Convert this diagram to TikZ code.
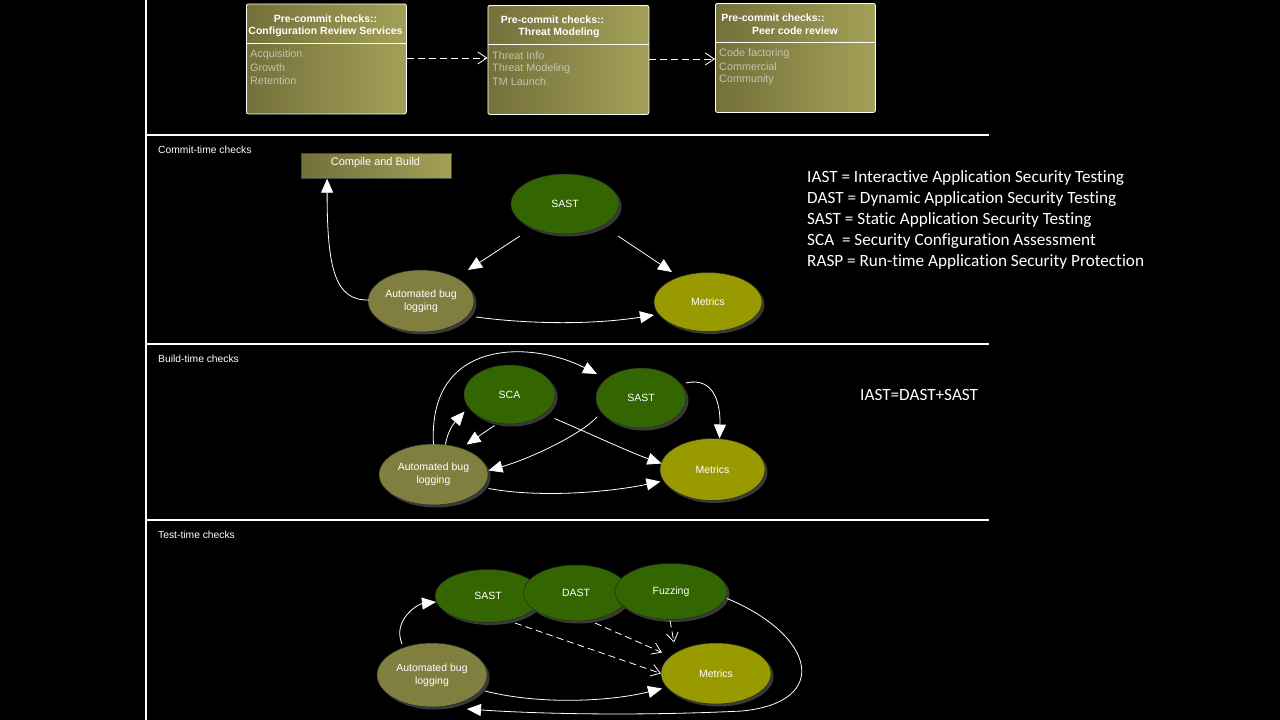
\documentclass[tikz,border=0pt]{standalone}
\usepackage{fontspec}
\setmainfont{Liberation Sans}
\newfontfamily\legendfont[Ligatures=NoCommon]{Carlito}
\usetikzlibrary{arrows.meta,shapes.geometric,calc,shadows}
\definecolor{olvL}{HTML}{74703A}
\definecolor{olvR}{HTML}{A3A158}
\definecolor{sgreen}{HTML}{336600}
\definecolor{bugc}{HTML}{807F40}
\definecolor{metc}{HTML}{999900}
\definecolor{itemc}{HTML}{C4C4B0}
\definecolor{shc}{HTML}{3A3A3A}
\tikzset{
  ell/.style 2 args={ellipse, inner sep=0pt, minimum width=#1, minimum height=#2,
    draw=black!85, line width=0.5pt, text=white, align=center,
    font=\fontsize{10.5}{13}\selectfont,
    drop shadow={shadow xshift=2.5pt, shadow yshift=-2.5pt, fill=shc, opacity=1}},
  greenell/.style={fill=sgreen},
  bugell/.style={fill=bugc},
  metell/.style={fill=metc},
  arr/.style={draw=white, line width=0.8pt, -{Triangle[length=14pt,width=12pt,fill=white]}},
  darr/.style={draw=white, line width=0.8pt, dash pattern=on 7pt off 4pt, -{Straight Barb[length=9pt,width=12pt]}},
  pbox/.style={draw=white, line width=0.8pt, rounded corners=2pt, left color=olvL, right color=olvR,
    inner sep=0pt, anchor=north west},
  hdr/.style={text=white, font=\fontsize{10.5}{12}\bfseries, inner sep=0pt},
  item/.style={text=itemc, font=\fontsize{10.8}{12}\selectfont, inner sep=0pt, anchor=west},
  seclabel/.style={text=white, font=\fontsize{10.3}{12}\selectfont, inner sep=0pt, anchor=west},
  legend/.style={text=white, font=\legendfont\fontsize{17.2}{20}\selectfont, inner sep=0pt, anchor=west},
  sep/.style={white, line width=1.5pt}
}
\begin{document}
\begin{tikzpicture}[x=1pt,y=-1pt]
\fill[black] (0,0) rectangle (1280,720);
\useasboundingbox (0,0) rectangle (1280,720);
% frame lines
\draw[sep] (146,0) -- (146,720);
\draw[sep] (146,135) -- (989,135);
\draw[sep] (146,344) -- (989,344);
\draw[sep] (146,520) -- (989,520);

% ---------- pre-commit boxes ----------
\node[pbox, minimum width=160pt, minimum height=110pt] (b1) at (246,3.5) {};
\node[pbox, minimum width=161pt, minimum height=109pt] (b2) at (487.5,5) {};
\node[pbox, minimum width=160pt, minimum height=109pt] (b3) at (715,3) {};
\draw[white, line width=0.8pt] (246,43) -- (406,43);
\draw[white, line width=0.8pt] (487.5,44) -- (648.5,44);
\draw[white, line width=0.8pt] (715,42.5) -- (875,42.5);
\node[hdr] (b1h1) at (325.5,18.5) {Pre-commit checks::};
\node[hdr] (b1h2) at (325.5,31.5) {Configuration Review Services};
\node[hdr] (b2h1) at (552.5,19.5) {Pre-commit checks::};
\node[hdr] (b2h2) at (559,32.5) {Threat Modeling};
\node[hdr] (b3h1) at (773,17.5) {Pre-commit checks::};
\node[hdr] (b3h2) at (795,30.5) {Peer code review};
\node[item] (b1i1) at (250,54.5) {Acquisition};
\node[item] (b1i2) at (250,67.5) {Growth};
\node[item] (b1i3) at (250,80.5) {Retention};
\node[item] (b2i1) at (492,55.5) {Threat Info};
\node[item] (b2i2) at (492,68.5) {Threat Modeling};
\node[item] (b2i3) at (492,81.5) {TM Launch};
\node[item] (b3i1) at (719,53.5) {Code factoring};
\node[item] (b3i2) at (719,66.5) {Commercial};
\node[item] (b3i3) at (719,79.5) {Community};
\draw[darr] ($(b1.north east)+(0,54.5)$) -- ($(b2.north west)+(0,53)$);
\draw[darr] ($(b2.north east)+(0,54)$) -- ($(b3.north west)+(0,56)$);

% ---------- legend ----------
\node[legend] (l1) at (807,178) {IAST = Interactive Application Security Testing};
\node[legend] (l2) at (807,199) {DAST = Dynamic Application Security Testing};
\node[legend] (l3) at (807,220) {SAST = Static Application Security Testing};
\node[legend] (l4) at (807,241) {SCA\ \ = Security Configuration Assessment};
\node[legend] (l5) at (807,262) {RASP = Run-time Application Security Protection};
\node[legend] (l6) at (860,395) {IAST=DAST+SAST};

% ---------- commit-time ----------
\node[seclabel] (lc) at (158,150) {Commit-time checks};
\node[draw=black!70, line width=0.8pt, left color=olvL, right color=olvR, minimum width=150pt,
  minimum height=25pt, inner sep=0pt] (cb) at (376.5,165.8) {};
\node[text=white, font=\fontsize{11}{12}\selectfont, inner sep=0pt] (cbt) at (375.5,162.5) {Compile and Build};
\node[ell={108pt}{60pt}, greenell] (s1) at (565,204) {SAST};
\node[ell={106pt}{62pt}, bugell] (bug1) at (421,301) {Automated bug\\logging};
\node[ell={108pt}{59pt}, metell] (met1) at (708,302) {Metrics};
\draw[arr] ($(s1)+(-45,32)$) -- ($(bug1)+(47,-31)$);
\draw[arr] ($(s1)+(53,32)$) -- ($(met1)+(-36,-30)$);
\draw[arr] ($(bug1)+(55,16)$) .. controls ($(bug1)+(115,24)$) and ($(met1)+(-110,22)$) .. ($(met1)+(-54,13)$);
\draw[arr] ($(bug1)+(-52,-1)$) .. controls ($(bug1)+(-86,0)$) and ($(cb.south west)+(26,90)$) .. ($(cb.south west)+(26,0)$);

% ---------- build-time ----------
\node[seclabel] (lb) at (158,359) {Build-time checks};
\node[ell={91pt}{59pt}, greenell] (sca) at (509.5,394.5) {SCA};
\node[ell={90pt}{60pt}, greenell] (s2) at (641,398) {SAST};
\node[ell={109pt}{61pt}, bugell] (bug2) at (433.5,474.5) {Automated bug\\logging};
\node[ell={105pt}{62pt}, metell] (met2) at (712.5,469.5) {Metrics};
\draw[arr] ($(bug2)+(0,-30)$) .. controls ($(bug2)+(-6,-136)$) and ($(s2)+(-111,-58)$) .. ($(s2)+(-44,-24)$);
\draw[arr] ($(bug2)+(12,-30)$) .. controls ($(bug2)+(15,-48)$) and ($(sca)+(-52,25)$) .. ($(sca)+(-45,17)$);
\draw[arr] ($(sca)+(-15,31)$) -- ($(bug2)+(33,-30)$);
\draw[arr] ($(s2)+(-44,19)$) .. controls ($(s2)+(-61,37)$) and ($(bug2)+(97,-16)$) .. ($(bug2)+(55,-4)$);
\draw[arr] ($(sca)+(45,24)$) .. controls ($(sca)+(80,39)$) and ($(met2)+(-82,-17)$) .. ($(met2)+(-51,-6)$);
\draw[arr] ($(s2)+(45,-15)$) .. controls ($(s2)+(75,-22)$) and ($(met2)+(8,-62)$) .. ($(met2)+(7,-31)$);
\draw[arr] ($(bug2)+(55,14)$) .. controls ($(bug2)+(110,24)$) and ($(met2)+(-100,22)$) .. ($(met2)+(-52,12)$);

% ---------- test-time ----------
\node[seclabel] (lt) at (158,535) {Test-time checks};
\node[ell={106pt}{53pt}, greenell] (s3) at (488,596) {SAST};
\node[ell={105pt}{56pt}, greenell] (dast) at (576,593) {DAST};
\node[ell={112pt}{56pt}, greenell] (fuz) at (671,591.5) {Fuzzing};
\node[ell={110pt}{64pt}, bugell] (bug3) at (432,675) {Automated bug\\logging};
\node[ell={110pt}{61pt}, metell] (met3) at (716,673.5) {Metrics};
\draw[arr] ($(bug3)+(-30,-31)$) .. controls ($(bug3)+(-40,-55)$) and ($(s3)+(-70,8)$) .. ($(s3)+(-52,6)$);
\draw[darr] ($(s3)+(27,27)$) -- ($(met3)+(-55,0)$);
\draw[darr] ($(dast)+(19,30)$) -- ($(met3)+(-54,-21)$);
\draw[darr] ($(fuz)+(-1,29)$) -- ($(met3)+(-42,-31)$);
\draw[arr] ($(bug3)+(53,16)$) .. controls ($(bug3)+(108,30)$) and ($(met3)+(-106,28)$) .. ($(met3)+(-54,15)$);
\draw[arr] ($(fuz)+(56,7)$) .. controls (815,635) and (832,702) .. (742,711)
  .. controls (640,716) and (540,714) .. ($(bug3)+(35,34)$);
\end{tikzpicture}
\end{document}
